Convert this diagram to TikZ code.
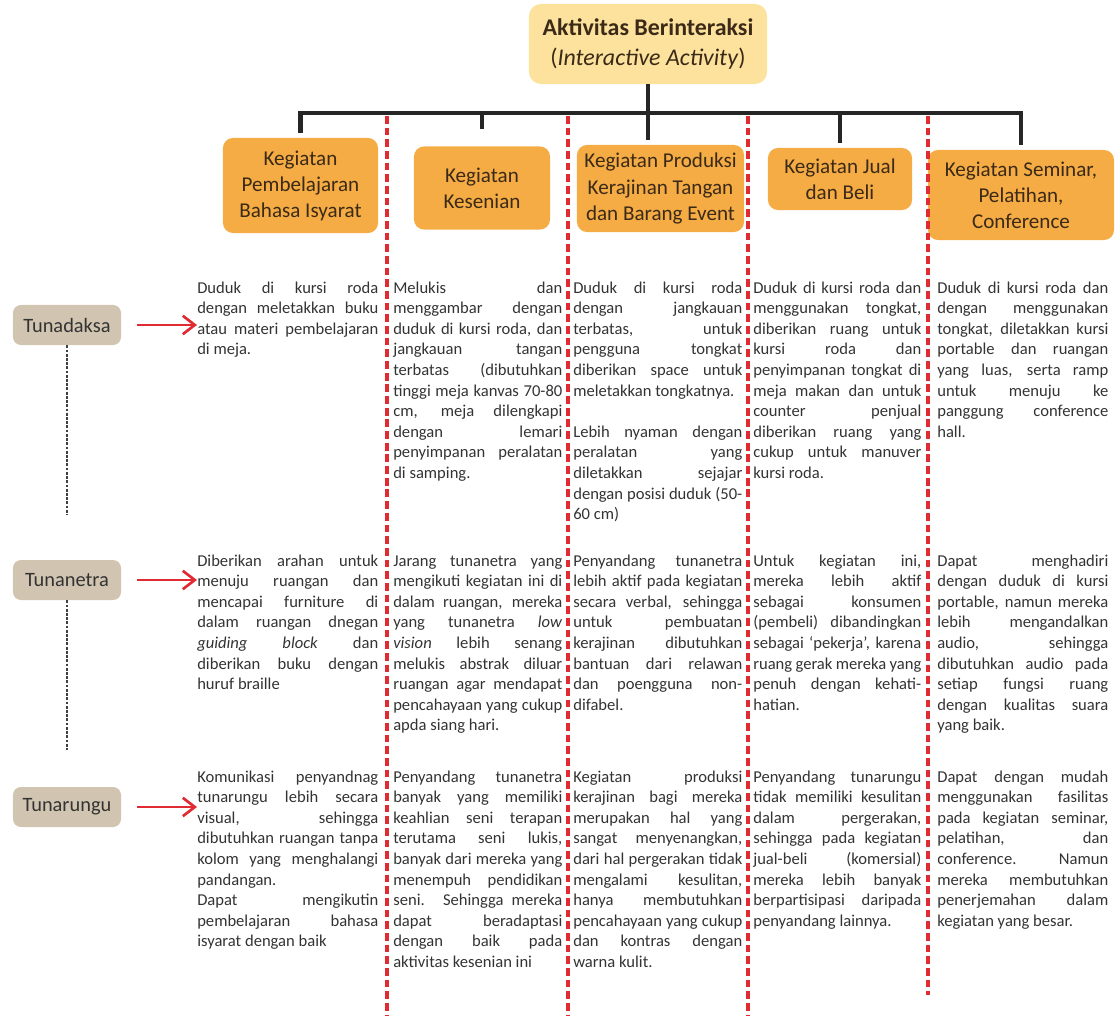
\documentclass[tikz,border=0pt]{standalone}
\usepackage{fontspec}
\setmainfont{Carlito}
\usetikzlibrary{arrows.meta}

\definecolor{titlefill}{HTML}{FCE29C}
\definecolor{boxfill}{HTML}{F5AC44}
\definecolor{labelfill}{HTML}{D1C5B1}
\definecolor{sepred}{HTML}{E02B32}
\definecolor{bodytext}{HTML}{333333}
\definecolor{boxtext}{HTML}{3B2A17}

\tikzset{
  titlebox/.style={fill=titlefill, rounded corners=0.3cm, minimum width=5.95cm, minimum height=2cm,
    align=center, text=boxtext, font=\fontsize{17}{21.3}\selectfont},
  actbox/.style={fill=boxfill, rounded corners=0.25cm, align=center, text=boxtext, inner sep=2pt,
    font=\fontsize{15}{18.5}\selectfont},
  userbox/.style={fill=labelfill, rounded corners=0.2cm, minimum width=2.7cm, minimum height=1cm,
    text=bodytext, font=\fontsize{14.5}{17}\selectfont},
  desc/.style={anchor=base west, inner sep=0pt, align=justify, text=bodytext,
    font=\fontsize{11.8}{14.65}\selectfont,
    execute at begin node={\tolerance=10000\hbadness=10000\hfuzz=8pt\hyphenpenalty=10000}},
  trunk/.style={draw=black!85, line width=3pt},
  divider/.style={draw=sepred, line width=2.2pt, dash pattern=on 5.5pt off 2.8pt},
  guide/.style={draw=black!75, line width=1.6pt, dash pattern=on 2pt off 1pt},
  pointer/.style={draw=sepred, line width=1.9pt, -{Straight Barb[length=3mm,width=4.6mm]}, shorten <=0.4cm}
}

\begin{document}
\begin{tikzpicture}[x=0.025cm, y=-0.025cm]
\useasboundingbox (0,0) rectangle (1116,1018);

% activity tree
\node[titlebox] (title) at (648,44) {\textbf{Aktivitas Berinteraksi}\\(\textit{Interactive Activity})};
\node[actbox, minimum width=3.875cm, minimum height=2.375cm] (bahasa) at (300.5,185.5) {Kegiatan\\Pembelajaran\\Bahasa Isyarat};
\node[actbox, minimum width=3.4cm, minimum height=2.075cm] (kesenian) at (482,188) {Kegiatan\\Kesenian};
\node[actbox, minimum width=4.175cm, minimum height=2.175cm] (produksi) at (660.5,188.5) {Kegiatan Produksi\\Kerajinan Tangan\\dan Barang Event};
\node[actbox, minimum width=3.6cm, minimum height=1.55cm] (jual) at (840,179) {Kegiatan Jual\\dan Beli};
\node[actbox, minimum width=4.65cm, minimum height=2.25cm] (seminar) at (1021,195) {Kegiatan Seminar,\\Pelatihan,\\Conference};

\coordinate (hub) at (650,113);
\draw[trunk, shorten >=0.12cm] (title) -- (title |- produksi.north);
\draw[trunk, shorten <=0.12cm, shorten >=0.12cm] (bahasa.north) -- (bahasa.north |- hub) -- (seminar.north |- hub) -- (seminar.north);
\draw[trunk, shorten >=0.42cm] (kesenian.north |- hub) -- (kesenian.north);
\draw[trunk, shorten >=0.12cm] (jual.north |- hub) -- (jual.north);

% column dividers
\foreach \x in {387,568,748}
  \draw[divider] (\x,116) -- (\x,1015);
\draw[divider] (928,116) -- (928,995);

% user groups
\node[userbox] (daksa) at (67,325) {Tunadaksa};
\node[userbox] (netra) at (67,580) {Tunanetra};
\node[userbox] (rungu) at (67,807) {Tunarungu};
\draw[guide] (daksa.south) -- ++(0,170);
\draw[guide] (netra.south) -- ++(0,150);

% Tunadaksa
\node[desc, text width=4.525cm] (d1) at (197,293) {Duduk di kursi roda \linebreak
dengan meletakkan buku \linebreak
atau materi pembelajaran \linebreak
di meja.};
\node[desc, text width=4.225cm] (d2) at (393,293) {Melukis dan \linebreak
menggambar dengan \linebreak
duduk di kursi roda, dan \linebreak
jangkauan tangan \linebreak
terbatas (dibutuhkan \linebreak
tinggi meja kanvas 70-80 \linebreak
cm, meja dilengkapi \linebreak
dengan lemari \linebreak
penyimpanan peralatan \linebreak
di samping.};
\node[desc, text width=4.225cm] (d3) at (573,293) {Duduk di kursi roda \linebreak
dengan jangkauan \linebreak
terbatas, untuk \linebreak
pengguna tongkat \linebreak
diberikan space untuk \linebreak
meletakkan tongkatnya.\par\vspace{\baselineskip}
Lebih nyaman dengan \linebreak
peralatan yang \linebreak
diletakkan sejajar \linebreak
dengan posisi duduk (50-\linebreak
60 cm)};
\node[desc, text width=4.2cm] (d4) at (753,293) {Duduk di kursi roda dan \linebreak
menggunakan tongkat, \linebreak
diberikan ruang untuk \linebreak
kursi roda dan \linebreak
penyimpanan tongkat di \linebreak
meja makan dan untuk \linebreak
counter penjual \linebreak
diberikan ruang yang \linebreak
cukup untuk manuver \linebreak
kursi roda.};
\node[desc, text width=4.275cm] (d5) at (937,293) {Duduk di kursi roda dan \linebreak
dengan menggunakan \linebreak
tongkat, diletakkan kursi \linebreak
portable dan ruangan \linebreak
yang luas, serta ramp \linebreak
untuk menuju ke \linebreak
panggung conference \linebreak
hall.};

% Tunanetra
\node[desc, text width=4.525cm] (n1) at (197,566) {Diberikan arahan untuk \linebreak
menuju ruangan dan \linebreak
mencapai furniture di \linebreak
dalam ruangan dnegan \linebreak
\textit{guiding block} dan \linebreak
diberikan buku dengan \linebreak
huruf braille};
\node[desc, text width=4.225cm] (n2) at (393,566) {Jarang tunanetra yang \linebreak
mengikuti kegiatan ini di \linebreak
dalam ruangan, mereka \linebreak
yang tunanetra \textit{low} \linebreak
\textit{vision} lebih senang \linebreak
melukis abstrak diluar \linebreak
ruangan agar mendapat \linebreak
pencahayaan yang cukup \linebreak
apda siang hari.};
\node[desc, text width=4.225cm] (n3) at (573,566) {Penyandang tunanetra \linebreak
lebih aktif pada kegiatan \linebreak
secara verbal, sehingga \linebreak
untuk pembuatan \linebreak
kerajinan dibutuhkan \linebreak
bantuan dari relawan \linebreak
dan poengguna non-\linebreak
difabel.};
\node[desc, text width=4.2cm] (n4) at (753,566) {Untuk kegiatan ini, \linebreak
mereka lebih aktif \linebreak
sebagai konsumen \linebreak
(pembeli) dibandingkan \linebreak
sebagai ‘pekerja’, karena \linebreak
ruang gerak mereka yang \linebreak
penuh dengan kehati-\linebreak
hatian.};
\node[desc, text width=4.275cm] (n5) at (937,566) {Dapat menghadiri \linebreak
dengan duduk di kursi \linebreak
portable, namun mereka \linebreak
lebih mengandalkan \linebreak
audio, sehingga \linebreak
dibutuhkan audio pada \linebreak
setiap fungsi ruang \linebreak
dengan kualitas suara \linebreak
yang baik.};

% Tunarungu
\node[desc, text width=4.525cm] (r1) at (197,782) {Komunikasi penyandnag \linebreak
tunarungu lebih secara \linebreak
visual, sehingga \linebreak
dibutuhkan ruangan tanpa \linebreak
kolom yang menghalangi \linebreak
pandangan.\par
Dapat mengikutin \linebreak
pembelajaran bahasa \linebreak
isyarat dengan baik};
\node[desc, text width=4.225cm] (r2) at (393,782) {Penyandang tunanetra \linebreak
banyak yang memiliki \linebreak
keahlian seni terapan \linebreak
terutama seni lukis, \linebreak
banyak dari mereka yang \linebreak
menempuh pendidikan \linebreak
seni. Sehingga mereka \linebreak
dapat beradaptasi \linebreak
dengan baik pada \linebreak
aktivitas kesenian ini};
\node[desc, text width=4.225cm] (r3) at (573,782) {Kegiatan produksi \linebreak
kerajinan bagi mereka \linebreak
merupakan hal yang \linebreak
sangat menyenangkan, \linebreak
dari hal pergerakan tidak \linebreak
mengalami kesulitan, \linebreak
hanya membutuhkan \linebreak
pencahayaan yang cukup \linebreak
dan kontras dengan \linebreak
warna kulit.};
\node[desc, text width=4.2cm] (r4) at (753,782) {Penyandang tunarungu \linebreak
tidak memiliki kesulitan \linebreak
dalam pergerakan, \linebreak
sehingga pada kegiatan \linebreak
jual-beli (komersial) \linebreak
mereka lebih banyak \linebreak
berpartisipasi daripada \linebreak
penyandang lainnya.};
\node[desc, text width=4.275cm] (r5) at (937,782) {Dapat dengan mudah \linebreak
menggunakan fasilitas \linebreak
pada kegiatan seminar, \linebreak
pelatihan, dan \linebreak
conference. Namun \linebreak
mereka membutuhkan \linebreak
penerjemahan dalam \linebreak
kegiatan yang besar.};

\draw[pointer] (daksa) -- (daksa -| d1.west);
\draw[pointer] (netra) -- (netra -| n1.west);
\draw[pointer] (rungu) -- (rungu -| r1.west);
\end{tikzpicture}
\end{document}
